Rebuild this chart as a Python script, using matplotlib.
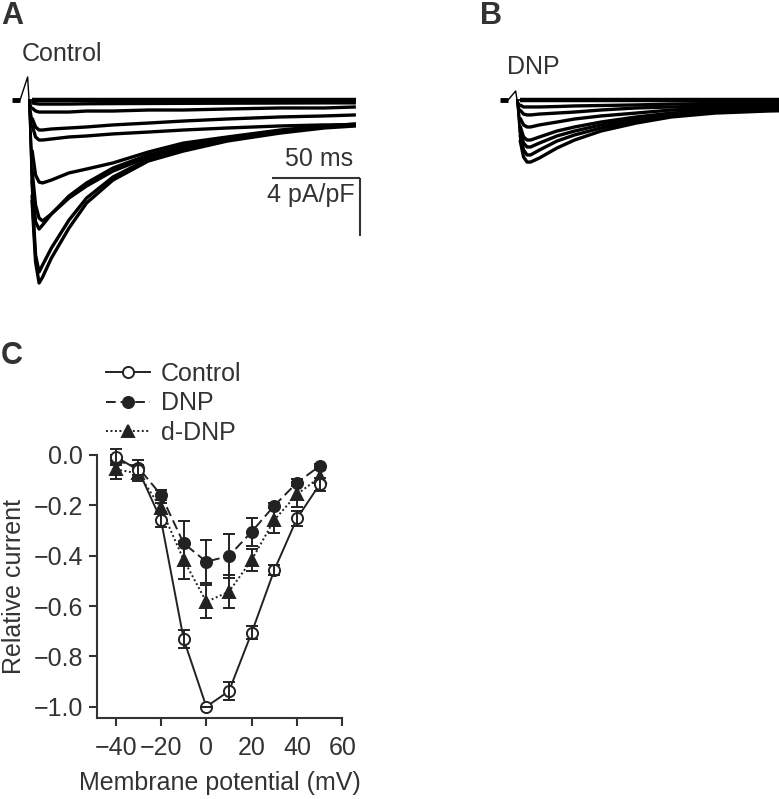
import matplotlib
matplotlib.use("Agg")
import matplotlib.pyplot as plt
from matplotlib.lines import Line2D
import numpy as np

plt.rcParams['font.family'] = ['Liberation Sans', 'DejaVu Sans']

# ---------------- Data ----------------
# Panels A/B: sampled points of current traces (time in ms, current in pA/pF)
t_art = [-7.4, -2.8, 1.5, 2.3]          # baseline + capacitive artifact
i_art = [0.0, 0.0, 1.59, 0.0]
t_ms = [4, 6, 8, 10, 15, 25, 35, 50, 70, 90, 115, 145, 170, 188]

control_traces = [
    [0.0, 0.0, 0.0, 0.0, 0.0, 0.0, 0.0, 0.0, 0.0, 0.0, 0.0, 0.0, 0.0, 0.0],
    [-0.20, -0.25, -0.28, -0.28, -0.28, -0.28, -0.26, -0.25, -0.24, -0.23, -0.22, -0.21, -0.20, -0.20],
    [-0.55, -0.76, -0.83, -0.83, -0.83, -0.83, -0.76, -0.76, -0.69, -0.69, -0.62, -0.55, -0.55, -0.48],
    [-1.24, -1.86, -2.07, -2.07, -2.00, -1.93, -1.86, -1.72, -1.59, -1.45, -1.31, -1.17, -1.10, -1.03],
    [-1.72, -2.55, -2.76, -2.76, -2.69, -2.55, -2.48, -2.34, -2.21, -2.07, -1.93, -1.79, -1.72, -1.72],
    [-3.45, -5.17, -5.66, -5.72, -5.52, -5.03, -4.76, -4.34, -3.59, -2.97, -2.55, -2.07, -1.79, -1.66],
    [-4.83, -7.24, -8.14, -8.34, -7.86, -6.62, -5.72, -4.69, -3.79, -3.17, -2.62, -2.14, -1.79, -1.66],
    [-5.52, -8.41, -8.90, -8.62, -7.86, -6.76, -5.93, -4.90, -3.93, -3.24, -2.69, -2.14, -1.86, -1.72],
    [-6.55, -10.69, -11.86, -11.38, -10.21, -8.28, -6.76, -5.31, -4.07, -3.38, -2.76, -2.21, -1.86, -1.72],
    [-6.90, -11.17, -12.62, -12.21, -10.90, -8.83, -7.10, -5.52, -4.21, -3.52, -2.83, -2.28, -1.93, -1.79],
]

t_art_b = [-7.4, -2.8, 1.5, 2.3]
i_art_b = [0.0, 0.0, 0.62, 0.0]
dnp_traces = [
    [0.0, 0.0, 0.0, 0.0, 0.0, 0.0, 0.0, 0.0, 0.0, 0.0, 0.0, 0.0, 0.0, 0.0],
    [-0.34, -0.48, -0.48, -0.48, -0.48, -0.45, -0.41, -0.38, -0.34, -0.28, -0.24, -0.21, -0.20, -0.19],
    [-0.69, -0.97, -1.03, -1.03, -0.97, -0.90, -0.83, -0.69, -0.55, -0.48, -0.41, -0.34, -0.32, -0.30],
    [-1.24, -1.72, -1.86, -1.86, -1.72, -1.52, -1.31, -1.10, -0.90, -0.69, -0.55, -0.48, -0.45, -0.43],
    [-1.79, -2.55, -2.76, -2.76, -2.55, -2.14, -1.86, -1.52, -1.17, -0.90, -0.69, -0.55, -0.52, -0.50],
    [-2.07, -2.97, -3.24, -3.24, -2.97, -2.48, -2.14, -1.72, -1.31, -1.03, -0.76, -0.62, -0.58, -0.55],
    [-2.41, -3.45, -3.79, -3.79, -3.45, -2.83, -2.41, -1.93, -1.45, -1.10, -0.83, -0.69, -0.64, -0.60],
    [-2.76, -3.93, -4.28, -4.28, -4.00, -3.31, -2.76, -2.14, -1.59, -1.17, -0.90, -0.76, -0.70, -0.66],
]

# Scale bar
bar_ms = 50
bar_pa = 4

# Panel C: I-V relationship
voltage = [-40, -30, -20, -10, 0, 10, 20, 30, 40, 50]
control_iv = [-0.007, -0.06, -0.258, -0.732, -1.0, -0.938, -0.706, -0.457, -0.252, -0.117]
control_err = [0.03, 0.02, 0.03, 0.035, 0.0, 0.035, 0.025, 0.02, 0.03, 0.025]
dnp_iv = [-0.02, -0.05, -0.159, -0.351, -0.424, -0.401, -0.305, -0.201, -0.11, -0.044]
dnp_err = [0.02, 0.03, 0.02, 0.087, 0.085, 0.086, 0.055, 0.01, 0.015, 0.01]
ddnp_iv = [-0.057, -0.073, -0.212, -0.417, -0.583, -0.543, -0.417, -0.258, -0.156, -0.089]
ddnp_err = [0.04, 0.03, 0.02, 0.075, 0.066, 0.066, 0.045, 0.05, 0.05, 0.03]

xticks = [-40, -20, 0, 20, 40, 60]
yticks = [0.0, -0.2, -0.4, -0.6, -0.8, -1.0]
ytick_labels = ['0.0', '\u22120.2', '\u22120.4', '\u22120.6', '\u22120.8', '\u22121.0']
xtick_labels = ['\u221240', '\u221220', '0', '20', '40', '60']
series_names = ['Control', 'DNP', 'd-DNP']

# ---------------- Figure ----------------
W, H = 779, 799
fig = plt.figure(figsize=(W / 100, H / 100), dpi=100)
TXT = '#333333'
LINE = '#222222'
FS = 18


def px_axes(x0, y0, x1, y1):
    return fig.add_axes([x0 / W, 1 - y1 / H, (x1 - x0) / W, (y1 - y0) / H])


PX_PER_MS = 1.76
PX_PER_PA = 14.5
Y0_PX = 100  # baseline pixel row
TOP_PX, BOT_PX = 60, 300


def draw_traces(ax, ta, ia, traces):
    # pre-step baseline (thick), artifact (thin), current (thick)
    ax.plot(ta[:2], ia[:2], color='black', lw=3.5, solid_capstyle='butt')
    ax.plot(ta[1:], ia[1:], color='black', lw=1.0)
    for k, tr in enumerate(traces):
        xs = [ta[-1]] + t_ms
        ys = [ia[-1]] + tr
        ax.plot(xs[:2], ys[:2], color='black', lw=1.3)
        ax.plot(xs[1:], ys[1:], color='black', lw=3.2 if k == 0 else 2.4,
                solid_joinstyle='round', solid_capstyle='butt')


# Panel A
axA = px_axes(0, TOP_PX, 380, BOT_PX)
axA.set_xlim((0 - 25) / PX_PER_MS, (380 - 25) / PX_PER_MS)
axA.set_ylim(-(BOT_PX - Y0_PX) / PX_PER_PA, (Y0_PX - TOP_PX) / PX_PER_PA)
axA.axis('off')
draw_traces(axA, t_art, i_art, control_traces)
# scale bar
sx1 = (360 - 25) / PX_PER_MS
sy = -(178 - Y0_PX) / PX_PER_PA
axA.plot([sx1 - bar_ms, sx1], [sy, sy], color=TXT, lw=1.5, solid_capstyle='butt')
axA.plot([sx1, sx1], [sy, sy - bar_pa], color=TXT, lw=1.5, solid_capstyle='butt')
axA.text(sx1 - 4, sy + 0.45, f'{bar_ms} ms', ha='right', va='bottom', fontsize=FS, color=TXT)
axA.text(sx1 - 3, sy - 0.35, f'{bar_pa} pA/pF', ha='right', va='top', fontsize=FS, color=TXT)

# Panel B
axB = px_axes(490, TOP_PX, 779, BOT_PX)
axB.set_xlim((490 - 513) / PX_PER_MS, (779 - 513) / PX_PER_MS)
axB.set_ylim(-(BOT_PX - Y0_PX) / PX_PER_PA, (Y0_PX - TOP_PX) / PX_PER_PA)
axB.axis('off')
draw_traces(axB, t_art_b, i_art_b, dnp_traces)

fig.text(22 / W, 1 - 61 / H, 'Control', fontsize=FS, color=TXT, ha='left', va='baseline')
fig.text(507 / W, 1 - 74 / H, 'DNP', fontsize=FS, color=TXT, ha='left', va='baseline')

# Panel labels
fig.text(1 / W, 1 - 24 / H, 'A', fontsize=22, fontweight='bold', color=TXT, ha='left', va='baseline')
fig.text(480 / W, 1 - 24 / H, 'B', fontsize=22, fontweight='bold', color=TXT, ha='left', va='baseline')
fig.text(1 / W, 1 - 364 / H, 'C', fontsize=22, fontweight='bold', color=TXT, ha='left', va='baseline')

# Panel C
axC = px_axes(96.7, 455, 342.3, 717.7)
ymin = -1.0 - (717.7 - 706.7) / 251.7
xmin = -40 - (115.7 - 96.7) / 2.266
axC.set_xlim(xmin, 60)
axC.set_ylim(ymin, 0.0)

styles = [
    dict(marker='o', ls='-', ms=8, mfc='white', z=3),
    dict(marker='o', ls=(0, (5, 2.5)), ms=8, mfc=LINE, z=2),
    dict(marker='^', ls=(0, (1, 1.3)), ms=9, mfc=LINE, z=2),
]
data = [(control_iv, control_err), (dnp_iv, dnp_err), (ddnp_iv, ddnp_err)]
handles = []
for (vals, errs), st, name in zip(data, styles, series_names):
    axC.errorbar(voltage, vals, yerr=errs, fmt='none', ecolor=LINE, elinewidth=1.4,
                 capsize=4, capthick=1.4, zorder=st['z'] + 0.5)
    axC.plot(voltage, vals, color=LINE, lw=1.4, ls=st['ls'], marker=st['marker'],
             ms=st['ms'], mfc=st['mfc'], mec=LINE, mew=1.4, zorder=st['z'])
    handles.append(Line2D([], [], color=LINE, lw=1.4, ls=st['ls'], marker=st['marker'],
                          ms=st['ms'], mfc=st['mfc'], mec=LINE, mew=1.4))
for c in axC.get_children():
    try:
        c.set_clip_on(False)
    except Exception:
        pass

for s in ['top', 'right']:
    axC.spines[s].set_visible(False)
for s in ['left', 'bottom']:
    axC.spines[s].set_linewidth(1.5)
    axC.spines[s].set_color(TXT)
axC.set_xticks(xticks)
axC.set_xticklabels(xtick_labels)
axC.set_yticks(yticks)
axC.set_yticklabels(ytick_labels)
axC.tick_params(direction='out', length=6, width=1.5, colors=TXT, labelsize=FS, pad=4)
axC.tick_params(axis='x', pad=7)
axC.set_xlabel('Membrane potential (mV)', fontsize=FS, color=TXT, labelpad=8)
axC.set_ylabel('Relative current', fontsize=FS, color=TXT, labelpad=5)

leg = fig.legend(handles=handles, labels=series_names,
                 loc='upper left', bbox_to_anchor=(106 / W, 1 - 362 / H),
                 frameon=False, fontsize=FS, handlelength=1.75, handletextpad=0.45,
                 labelspacing=0.22, borderpad=0, borderaxespad=0)
for t in leg.get_texts():
    t.set_color(TXT)

fig.savefig('out.png', dpi=100)
